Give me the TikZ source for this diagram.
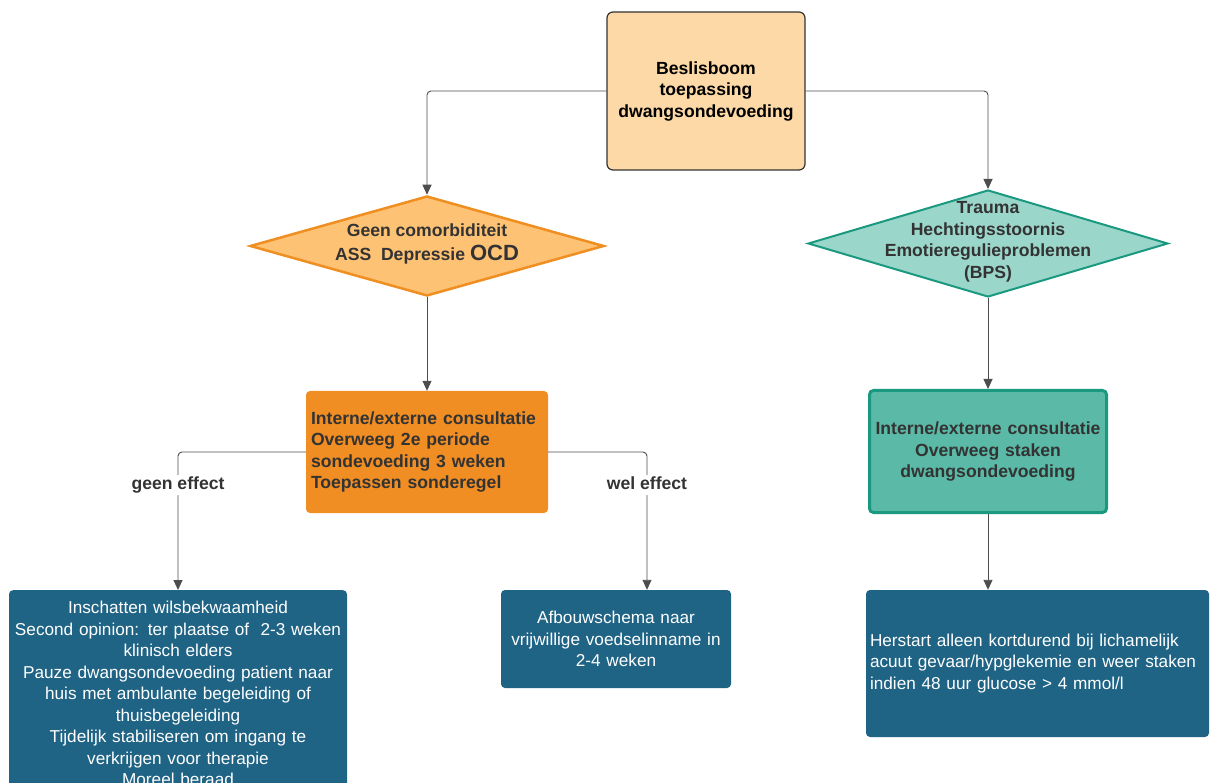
\documentclass[tikz,border=0pt]{standalone}
\usepackage{fontspec}
\setmainfont{Liberation Sans}
\usetikzlibrary{arrows.meta,shapes.geometric}
\definecolor{perzik}{HTML}{FDD9A7}
\definecolor{oranjelicht}{HTML}{FDC273}
\definecolor{oranjerand}{HTML}{EF8E21}
\definecolor{oranje}{HTML}{F08D23}
\definecolor{groenlicht}{HTML}{9BD6CA}
\definecolor{groenrand}{HTML}{1B9980}
\definecolor{groen}{HTML}{5BBAA7}
\definecolor{blauw}{HTML}{1F6385}
\definecolor{tekst}{HTML}{333333}
\definecolor{lijn}{HTML}{4D4D4D}
\newcommand{\bbmaat}{\fontsize{17.2}{21.5}\selectfont}
\newcommand{\bbvet}{\fontsize{17.6}{21.5}\selectfont\bfseries}
\tikzset{
	bb_kop/.style = {rectangle, rounded corners=6pt, draw=black!80, line width=1.2pt,
		fill=perzik, minimum width=198pt, minimum height=158pt, text width=194pt,
		inner xsep=2pt, align=center, font=\bbvet},% beslisboom, kop
	bb_ruit/.style = {diamond, inner sep=0pt, line width=2.5pt},% beslisboom, ruit
	bb_ruittekst/.style = {align=center, inner sep=0pt, text=tekst, font=\bbvet},
	bb_oranje/.style = {rectangle, rounded corners=4pt, fill=oranje, text=tekst,
		minimum width=242pt, minimum height=122pt, text width=232pt, inner xsep=5pt,
		align=left, font=\bbvet},% consultatie links
	bb_groen/.style = {rectangle, rounded corners=4pt, fill=groen, draw=groenrand,
		line width=3pt, text=tekst, minimum width=237pt, minimum height=122pt,
		text width=232pt, inner xsep=2pt, align=center, font=\bbvet},% consultatie rechts
	bb_blauw/.style = {rectangle, rounded corners=4pt, fill=blauw, text=white,
		align=center},% uitkomst
	bb_pijl/.style = {->, draw=lijn, line width=0.9pt, rounded corners=4pt},
	bb_tak/.style = {fill=white, text=tekst, inner sep=2pt, text height=12.5pt,
		text depth=3.5pt, font=\bbvet}
}
\begin{document}
\begin{tikzpicture}[x=1pt, y=-1pt, font=\bbmaat,
	>={Triangle[width=9pt,length=10pt]}]
\useasboundingbox (0,0) rectangle (1210,783);
\clip (0,0) rectangle (1210,783);
\node [bb_kop] (kop) at (706,91) {Beslisboom\\toepassing\\dwangsondevoeding};
\node [bb_ruit, fill=oranjelicht, draw=oranjerand, minimum width=354pt, minimum height=100pt,
	label={[bb_ruittekst, yshift=2pt]center:{Geen comorbiditeit\\[2pt]ASS\ \ Depressie {\fontsize{22}{21.5}\selectfont OCD}}}]
	(ruitL) at (427,246) {};
\node [bb_ruit, fill=groenlicht, draw=groenrand, line width=2pt, minimum width=360pt, minimum height=107pt,
	label={[bb_ruittekst, yshift=1.5pt]center:{Trauma\\Hechtingsstoornis\\Emotieregulieproblemen\\(BPS)}}]
	(ruitR) at (988,243.5) {};
\node [bb_oranje] (consL) at (427,452) {Interne/externe consultatie\\Overweeg 2e periode\\sondevoeding 3 weken\\Toepassen sonderegel};
\node [bb_groen] (consR) at (988,451.5) {Interne/externe consultatie\\Overweeg staken\\dwangsondevoeding};
\node [bb_blauw, anchor=north, text width=330pt, inner xsep=4pt, inner ysep=11pt] (wils) at (178,590)
	{Inschatten wilsbekwaamheid\\Second opinion: ter plaatse of\ \ 2-3 weken\\klinisch elders\\Pauze dwangsondevoeding patient naar\\huis met ambulante begeleiding of\\thuisbegeleiding\\Tijdelijk stabiliseren om ingang te\\verkrijgen voor therapie\\Moreel beraad};
\node [bb_blauw, minimum width=230pt, minimum height=98pt, text width=222pt] (afbouw) at (616,639)
	{Afbouwschema naar\\vrijwillige voedselinname in\\2-4 weken};
\node [bb_blauw, align=left, text width=335pt, inner xsep=4pt, minimum height=147pt] (herstart) at (1037.5,663.5)
	{Herstart alleen kortdurend bij lichamelijk\\acuut gevaar/hypglekemie en weer staken\\indien 48 uur glucose > 4 mmol/l};
% verbindingen
\draw [bb_pijl] (kop.west) -| (ruitL.north);
\draw [bb_pijl] (kop.east) -| (ruitR.north);
\draw [bb_pijl] (ruitL.south) -- (consL.north);
\draw [bb_pijl] (ruitR.south) -- (consR.north);
\draw [bb_pijl] (consL.west) -| node [bb_tak, pos=0.62] (geen) {geen effect} (wils.north);
\draw [bb_pijl] (consL.east) -| node [bb_tak, pos=0.62] (wel) {wel effect} ([xshift=31pt]afbouw.north);
\draw [bb_pijl] (consR.south) -- (consR.south |- herstart.north);
\end{tikzpicture}
\end{document}
